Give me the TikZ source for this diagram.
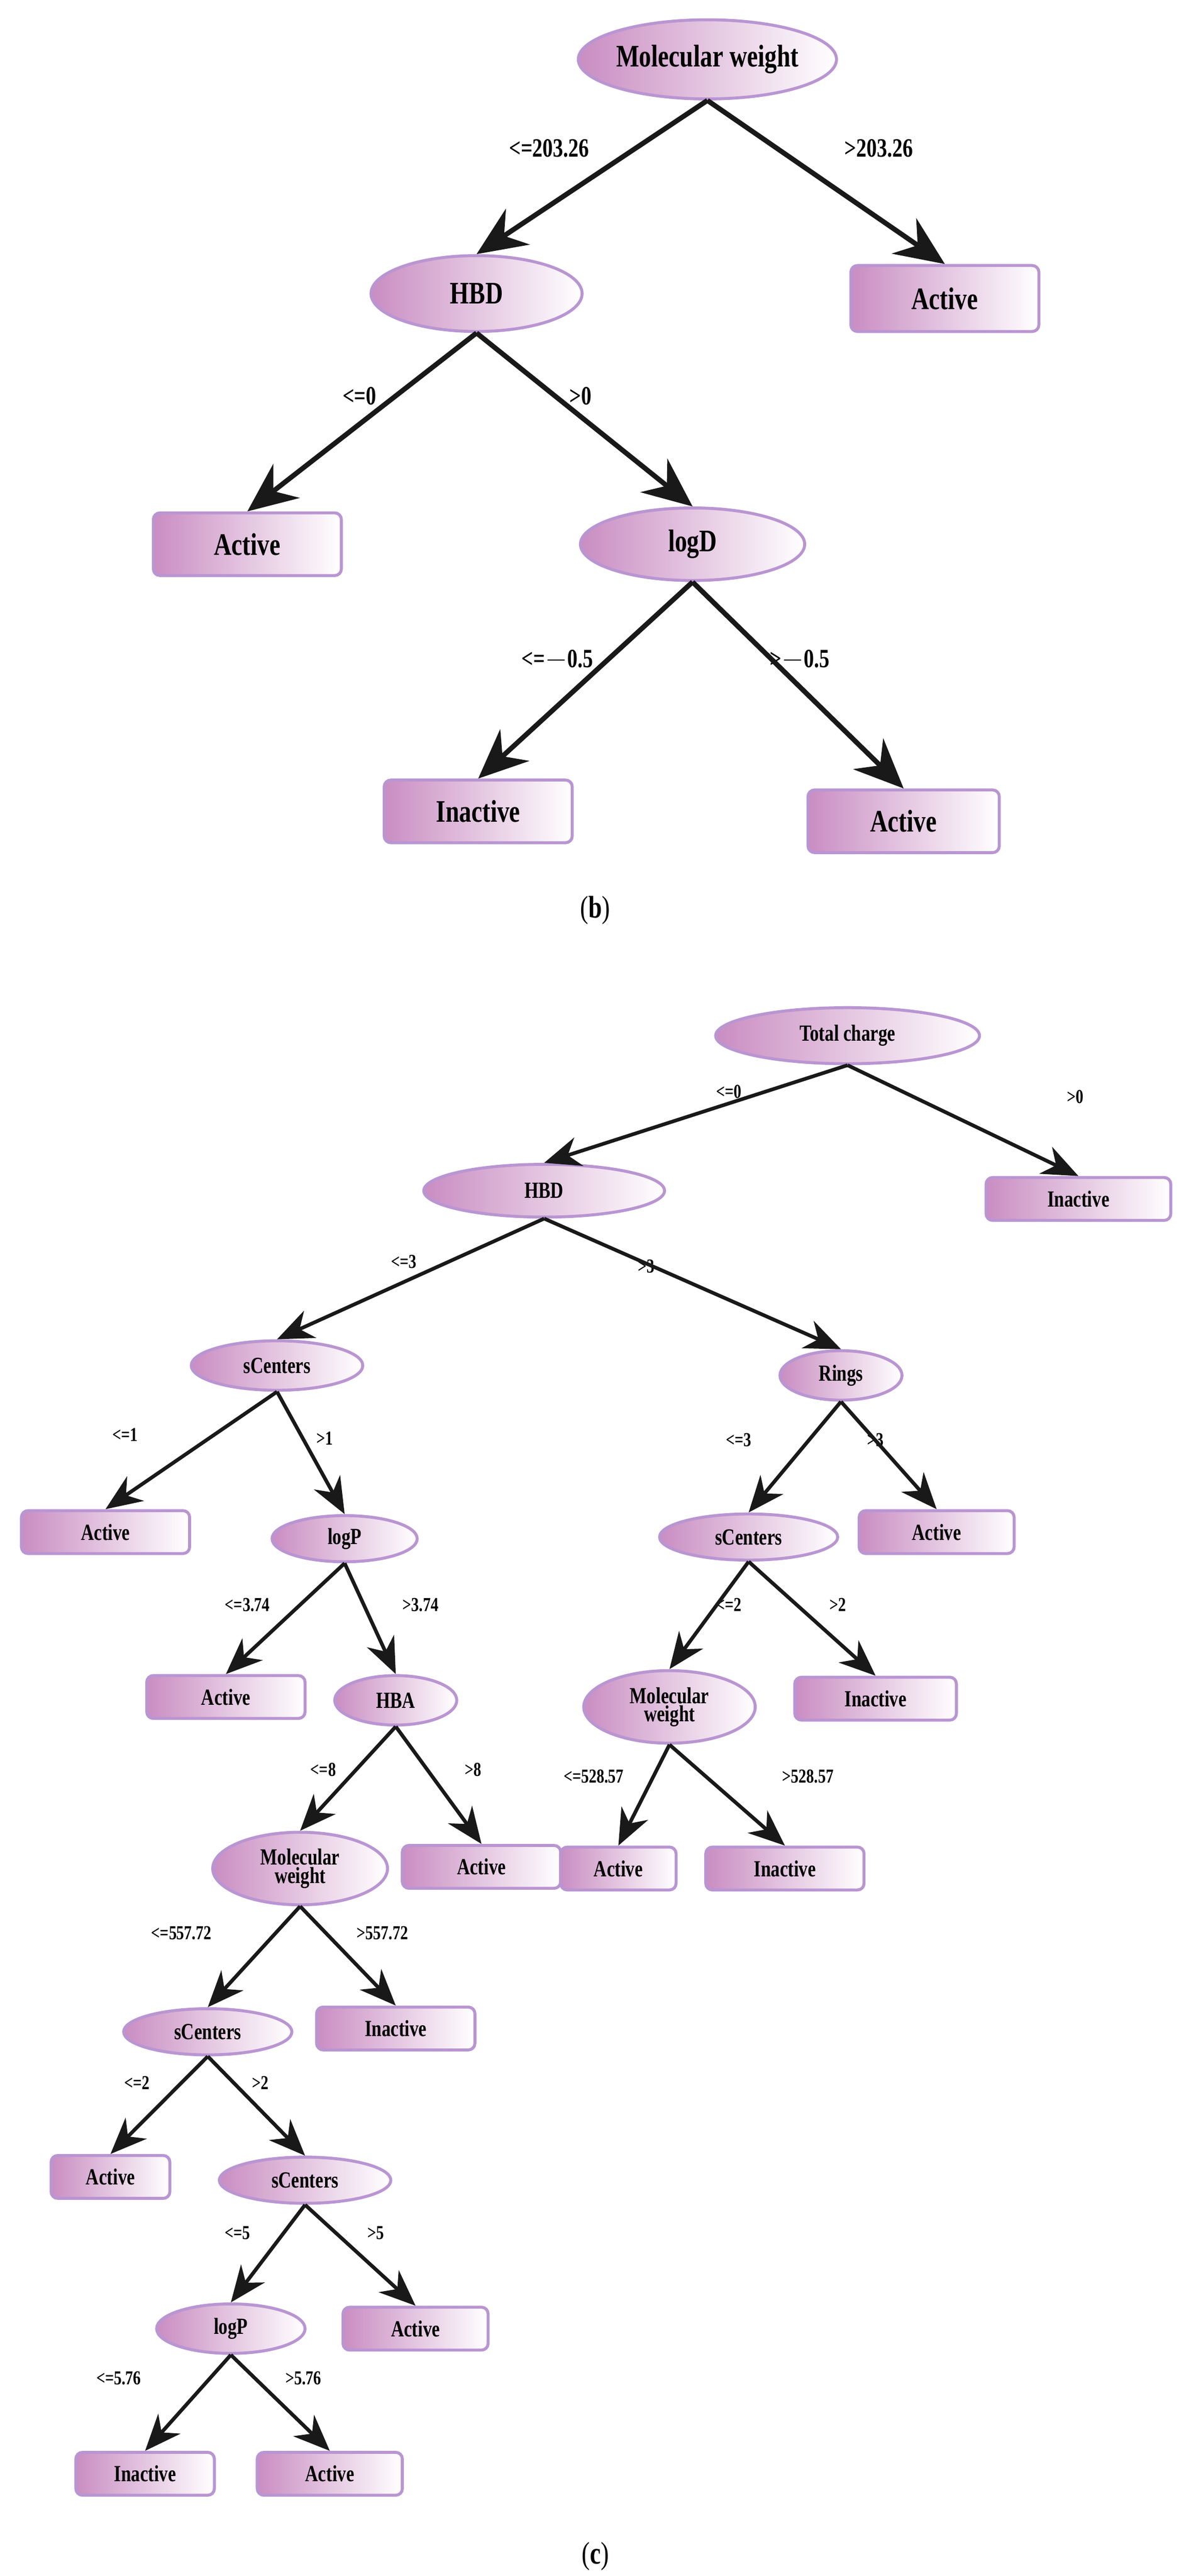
\documentclass[tikz,border=0pt]{standalone}
\usepackage{fontspec}
\setmainfont{Liberation Serif}[FakeStretch=0.78]
\usetikzlibrary{arrows.meta,shapes.geometric}

\definecolor{mauve}{HTML}{C98DC2}
\definecolor{lilac}{HTML}{B995D2}

\tikzset{
    split/.style={ellipse, draw=lilac, line width=1.8pt, left color=mauve, right color=white, font=\bfseries, inner sep=0pt},
    leaf/.style={rectangle, rounded corners=4pt, draw=lilac, line width=1.8pt, left color=mauve, right color=white, font=\bfseries, inner sep=0pt},
    big/.style={minimum height=40pt, font=\fontsize{19}{20}\selectfont\bfseries},
    small/.style={minimum height=26pt, font=\fontsize{14}{14}\selectfont\bfseries},
    lbl/.style={font=\fontsize{16}{16}\selectfont\bfseries},
    slbl/.style={font=\fontsize{12}{12}\selectfont\bfseries},
    bigarr/.style={-{Stealth[length=30pt, width=26pt, inset=10pt]}, line width=3pt, black!90},
    smallarr/.style={-{Stealth[length=22pt, width=18pt, inset=7pt]}, line width=2.2pt, black!90},
}

\begin{document}
\begin{tikzpicture}[x=1pt, y=-1pt]
    \useasboundingbox (0,0) rectangle (722,1562);

    % (b)
    \node (mw) [split, big, minimum width=150pt, minimum height=48pt] at (429,36) {Molecular weight};
    \node (hbd) [split, big, minimum width=128pt, minimum height=46pt] at (289,178) {HBD};
    \node (actA) [leaf, big, minimum width=114pt] at (573,181) {Active};
    \node (actB) [leaf, big, minimum width=114pt, minimum height=38pt] at (150,330) {Active};
    \node (logd) [split, big, minimum width=136pt, minimum height=44pt] at (420,330) {logD};
    \node (inaA) [leaf, big, minimum width=114pt, minimum height=38pt] at (290,492) {Inactive};
    \node (actC) [leaf, big, minimum width=116pt, minimum height=38pt] at (548,498) {Active};
    \node (capb) [font=\fontsize{19}{20}\selectfont] at (361,552) {(\textbf{b})};

    \node (l1) [lbl] at (333,90) {<=203.26};
    \node (l2) [lbl] at (533,90) {>203.26};
    \node (l3) [lbl] at (218,240) {<=0};
    \node (l4) [lbl] at (352,240) {>0};
    \node (l5) [lbl] at (338,400) {<=$-$0.5};
    \node (l6) [lbl] at (485,400) {>$-$0.5};

    \draw[bigarr] (mw.south) -- (hbd.north);
    \draw[bigarr] (mw.south) -- (actA.north);
    \draw[bigarr] (hbd.south) -- (actB.north);
    \draw[bigarr] (hbd.south) -- (logd.north);
    \draw[bigarr] (logd.south) -- (inaA.north);
    \draw[bigarr] (logd.south) -- (actC.north);

    % (c)
    \node (tc) [split, small, minimum width=160pt, minimum height=34pt] at (514,628) {Total charge};
    \node (hbdc) [split, small, minimum width=146pt, minimum height=32pt] at (330,722) {HBD};
    \node (ina1) [leaf, small, minimum width=112pt] at (654,727) {Inactive};
    \node (sc1) [split, small, minimum width=104pt, minimum height=30pt] at (168,828) {sCenters};
    \node (rings) [split, small, minimum width=74pt, minimum height=30pt] at (510,834) {Rings};
    \node (act1) [leaf, small, minimum width=102pt] at (64,929) {Active};
    \node (logp1) [split, small, minimum width=88pt, minimum height=28pt] at (209,933) {logP};
    \node (sc2) [split, small, minimum width=108pt, minimum height=28pt] at (454,932) {sCenters};
    \node (act2) [leaf, small, minimum width=94pt] at (568,929) {Active};
    \node (act3) [leaf, small, minimum width=96pt] at (137,1029) {Active};
    \node (hba) [split, small, minimum width=74pt, minimum height=30pt] at (240,1031) {HBA};
    \node (mw1) [split, small, minimum width=104pt, minimum height=44pt, align=center] at (406,1035) {Molecular\\[-3pt]weight};
    \node (ina2) [leaf, small, minimum width=98pt] at (531,1030) {Inactive};
    \node (mw2) [split, small, minimum width=106pt, minimum height=44pt, align=center] at (182,1133) {Molecular\\[-3pt]weight};
    \node (act4) [leaf, small, minimum width=96pt] at (292,1132) {Active};
    \node (act5) [leaf, small, minimum width=70pt] at (375,1133) {Active};
    \node (ina3) [leaf, small, minimum width=96pt] at (476,1133) {Inactive};
    \node (sc3) [split, small, minimum width=102pt, minimum height=28pt] at (126,1232) {sCenters};
    \node (ina4) [leaf, small, minimum width=96pt] at (240,1230) {Inactive};
    \node (act6) [leaf, small, minimum width=72pt] at (67,1320) {Active};
    \node (sc4) [split, small, minimum width=104pt, minimum height=28pt] at (185,1322) {sCenters};
    \node (logp2) [split, small, minimum width=90pt, minimum height=30pt] at (140,1412) {logP};
    \node (act7) [leaf, small, minimum width=88pt] at (252,1412) {Active};
    \node (ina5) [leaf, small, minimum width=84pt] at (88,1500) {Inactive};
    \node (act8) [leaf, small, minimum width=88pt] at (200,1500) {Active};
    \node (capc) [font=\fontsize{19}{20}\selectfont] at (361,1550) {(\textbf{c})};

    \node (m1) [slbl] at (442,662) {<=0};
    \node (m2) [slbl] at (652,665) {>0};
    \node (m3) [slbl] at (245,765) {<=3};
    \node (m4) [slbl] at (392,768) {>3};
    \node (m5) [slbl] at (76,870) {<=1};
    \node (m6) [slbl] at (197,872) {>1};
    \node (m7) [slbl] at (448,873) {<=3};
    \node (m8) [slbl] at (531,873) {>3};
    \node (m9) [slbl] at (150,973) {<=3.74};
    \node (m10) [slbl] at (255,973) {>3.74};
    \node (m11) [slbl] at (442,973) {<=2};
    \node (m12) [slbl] at (508,973) {>2};
    \node (m13) [slbl] at (196,1073) {<=8};
    \node (m14) [slbl] at (287,1073) {>8};
    \node (m15) [slbl] at (360,1077) {<=528.57};
    \node (m16) [slbl] at (490,1077) {>528.57};
    \node (m17) [slbl] at (110,1172) {<=557.72};
    \node (m18) [slbl] at (232,1172) {>557.72};
    \node (m19) [slbl] at (83,1263) {<=2};
    \node (m20) [slbl] at (158,1263) {>2};
    \node (m21) [slbl] at (144,1354) {<=5};
    \node (m22) [slbl] at (228,1354) {>5};
    \node (m23) [slbl] at (72,1442) {<=5.76};
    \node (m24) [slbl] at (184,1442) {>5.76};

    \foreach \a/\b in {tc/hbdc, tc/ina1, hbdc/sc1, hbdc/rings, sc1/act1, sc1/logp1,
        rings/sc2, rings/act2, logp1/act3, logp1/hba, sc2/mw1, sc2/ina2,
        hba/mw2, hba/act4, mw1/act5, mw1/ina3, mw2/sc3, mw2/ina4,
        sc3/act6, sc3/sc4, sc4/logp2, sc4/act7, logp2/ina5, logp2/act8}
        \draw[smallarr] (\a.south) -- (\b.north);
\end{tikzpicture}
\end{document}
